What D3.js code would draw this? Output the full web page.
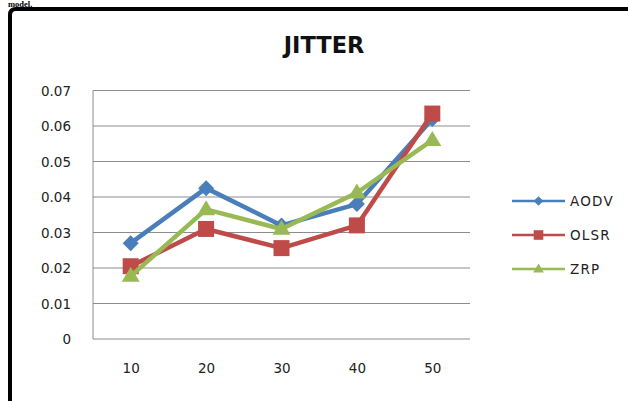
<!DOCTYPE html>
<html>
<head>
<meta charset="utf-8">
<script src="https://cdn.jsdelivr.net/npm/d3@7/dist/d3.min.js"></script>
<style>
  html, body { margin: 0; padding: 0; background: #fff; }
  svg { display: block; }
</style>
</head>
<body>
<script>
// Jitter per node count for three routing protocols
const categories = ["10", "20", "30", "40", "50"];
const aodv = [0.027, 0.0425, 0.032, 0.038, 0.062];
const olsr = [0.0205, 0.031, 0.0256, 0.032, 0.0635];
const zrp  = [0.0177, 0.0365, 0.031, 0.0412, 0.056];
const yTicks = [0, 0.01, 0.02, 0.03, 0.04, 0.05, 0.06, 0.07];
const seriesNames = ["AODV", "OLSR", "ZRP"];

const W = 628, H = 401;
const plot = { left: 93, right: 470, top: 90.5, bottom: 339 };

const svg = d3.select("body").append("svg")
  .attr("width", W).attr("height", H);

// caption text of the surrounding document, above the frame
svg.append("text")
  .attr("x", 8).attr("y", 6.5)
  .attr("font-family", "Liberation Serif, serif")
  .attr("font-weight", "bold")
  .attr("font-size", 8.5)
  .text("model.");

// thick frame around the chart
svg.append("path")
  .attr("d", `M10,${H + 5} L10,15 Q10,9 16,9 L${W + 5},9`)
  .attr("fill", "none")
  .attr("stroke", "#000")
  .attr("stroke-width", 4);

const x = d3.scalePoint().domain(categories)
  .range([plot.left, plot.right]).padding(0.5);
const y = d3.scaleLinear().domain([0, 0.07])
  .range([plot.bottom, plot.top]);

// horizontal gridlines
svg.append("g").selectAll("line").data(yTicks).join("line")
  .attr("x1", plot.left).attr("x2", plot.right)
  .attr("y1", d => y(d)).attr("y2", d => y(d))
  .attr("stroke", "#8c8c8c").attr("stroke-width", 1);

// vertical axis line
svg.append("line")
  .attr("x1", plot.left).attr("x2", plot.left)
  .attr("y1", plot.top).attr("y2", plot.bottom)
  .attr("stroke", "#8c8c8c").attr("stroke-width", 1);

const tickFont = "DejaVu Sans, Verdana, sans-serif";

// y tick labels
const yAxis = d3.axisLeft(y).tickValues(yTicks)
  .tickFormat(d => d === 0 ? "0" : d3.format(".2f")(d))
  .tickSize(0).tickPadding(22);
const gy = svg.append("g").attr("transform", `translate(${plot.left},0)`).call(yAxis);
gy.select(".domain").remove();
gy.selectAll("text")
  .attr("font-family", tickFont).attr("font-size", 13.5)
  .attr("fill", "#222").attr("dy", "0.35em");

// x tick labels
const xAxis = d3.axisBottom(x).tickSize(0).tickPadding(24);
const gx = svg.append("g").attr("transform", `translate(0,${plot.bottom})`).call(xAxis);
gx.select(".domain").remove();
gx.selectAll("text")
  .attr("font-family", tickFont).attr("font-size", 13.5)
  .attr("fill", "#222");

// title
svg.append("text")
  .attr("x", 324).attr("y", 53)
  .attr("text-anchor", "middle")
  .attr("font-family", "DejaVu Sans, sans-serif")
  .attr("font-weight", "bold")
  .attr("font-size", 22.5)
  .attr("fill", "#111")
  .text("JITTER");

const colors = ["#4a7ebb", "#be4b48", "#98b954"];
const data = [aodv, olsr, zrp];

const line = d3.line()
  .x((d, i) => x(categories[i]))
  .y(d => y(d));

function marker(g, k, cx, cy, scale) {
  if (k === 0) {
    const r = 8 * scale;
    g.append("path")
      .attr("d", `M${cx},${cy - r} L${cx + r},${cy} L${cx},${cy + r} L${cx - r},${cy} Z`)
      .attr("fill", colors[k]);
  } else if (k === 1) {
    const s = 16 * scale;
    g.append("rect")
      .attr("x", cx - s / 2).attr("y", cy - s / 2)
      .attr("width", s).attr("height", s)
      .attr("fill", colors[k]);
  } else {
    const w = 18 * scale, h = 15 * scale;
    g.append("path")
      .attr("d", `M${cx},${cy - h * 0.62} L${cx + w / 2},${cy + h * 0.38} L${cx - w / 2},${cy + h * 0.38} Z`)
      .attr("fill", colors[k]);
  }
}

data.forEach((vals, k) => {
  const g = svg.append("g");
  g.append("path")
    .attr("d", line(vals))
    .attr("fill", "none")
    .attr("stroke", colors[k])
    .attr("stroke-width", 4.5)
    .attr("stroke-linejoin", "round");
  vals.forEach((v, i) => marker(g, k, x(categories[i]), y(v), 1));
});

// legend
const legendY = [201, 235, 269];
seriesNames.forEach((name, k) => {
  const g = svg.append("g");
  g.append("line")
    .attr("x1", 512).attr("x2", 565)
    .attr("y1", legendY[k]).attr("y2", legendY[k])
    .attr("stroke", colors[k]).attr("stroke-width", 2.5);
  marker(g, k, 538.5, legendY[k], 0.6);
  g.append("text")
    .attr("x", 570).attr("y", legendY[k])
    .attr("dy", "0.36em")
    .attr("font-family", tickFont)
    .attr("font-size", 13.5)
    .attr("letter-spacing", 1.2)
    .attr("fill", "#222")
    .text(name);
});
</script>
</body>
</html>
